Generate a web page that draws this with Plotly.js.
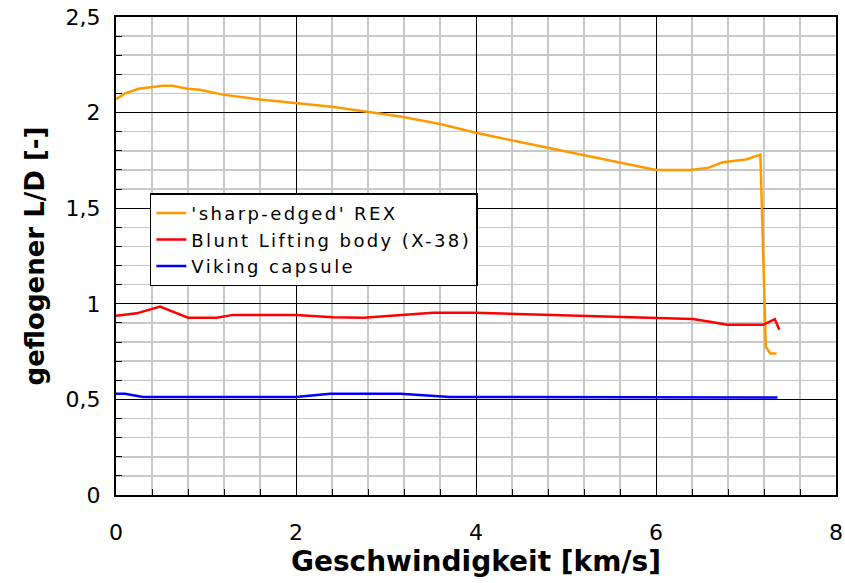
<!DOCTYPE html>
<html>
<head>
<meta charset="utf-8">
<script src="https://cdn.plot.ly/plotly-3.0.1.min.js"></script>
<style>html,body{margin:0;padding:0;background:#fff;}#chart{width:845px;height:583px;}
.legendtext{letter-spacing:2.4px;}
</style>
</head>
<body>
<div id="chart"></div>
<script>
const seriesNames = ["'sharp-edged' REX", "Blunt Lifting body (X-38)", "Viking capsule"];

const rexX = [0.0, 0.1, 0.25, 0.52, 0.63, 0.79, 0.93, 1.19, 1.6, 2.0, 2.4, 2.79, 3.16, 3.6, 4.0, 4.5, 5.0, 5.5, 6.0, 6.38, 6.57, 6.74, 7.0, 7.16, 7.22, 7.27, 7.34];
const rexY = [2.07, 2.10, 2.125, 2.14, 2.14, 2.125, 2.12, 2.094, 2.068, 2.05, 2.03, 2.005, 1.98, 1.94, 1.895, 1.845, 1.796, 1.745, 1.70, 1.70, 1.71, 1.74, 1.755, 1.78, 0.775, 0.74, 0.74];

const x38X = [0.0, 0.23, 0.49, 0.8, 1.12, 1.3, 2.0, 2.41, 2.75, 3.16, 3.52, 4.0, 4.79, 5.82, 6.41, 6.6, 6.79, 7.19, 7.32, 7.37];
const x38Y = [0.937, 0.95, 0.985, 0.927, 0.927, 0.942, 0.942, 0.93, 0.927, 0.942, 0.953, 0.953, 0.942, 0.93, 0.92, 0.906, 0.89, 0.89, 0.92, 0.864];

const vikX = [0.0, 0.1, 0.3, 1.0, 2.0, 2.38, 3.16, 3.71, 4.5, 5.5, 6.3, 7.35];
const vikY = [0.529, 0.529, 0.513, 0.513, 0.513, 0.529, 0.529, 0.513, 0.513, 0.513, 0.513, 0.51];

const colors = ['#FF9900', '#FF0000', '#0000FF'];

const traces = [
  {x: rexX, y: rexY, name: seriesNames[0], mode: 'lines', line: {color: colors[0], width: 2.5}},
  {x: x38X, y: x38Y, name: seriesNames[1], mode: 'lines', line: {color: colors[1], width: 2.5}},
  {x: vikX, y: vikY, name: seriesNames[2], mode: 'lines', line: {color: colors[2], width: 2.5}}
];

const fontFam = 'DejaVu Sans, Liberation Sans, Arial, sans-serif';

const layout = {
  width: 845, height: 583,
  margin: {l: 116, r: 9, t: 17, b: 88},
  paper_bgcolor: '#fff', plot_bgcolor: '#fff',
  separators: ', ',
  font: {family: fontFam, color: '#000', size: 22},
  showlegend: true,
  legend: {
    x: 0.047, y: 0.631, xanchor: 'left', yanchor: 'top',
    bordercolor: '#000', borderwidth: 1.5, bgcolor: '#fff',
    font: {family: fontFam, size: 18, color: '#000'},
    tracegroupgap: 0, itemwidth: 30
  },
  xaxis: {
    range: [0, 8], dtick: 2, tick0: 0,
    showgrid: true, gridcolor: '#000', gridwidth: 1,
    showline: true, linecolor: '#000', linewidth: 2, mirror: true,
    zeroline: false, ticks: '', tickfont: {size: 22}, ticklabelstandoff: 17,
    minor: {dtick: 0.4, tick0: 0, showgrid: true, gridcolor: '#c8c8c8', gridwidth: 1.5, ticks: 'inside', ticklen: 6, tickcolor: '#000'},
    title: {text: '<b>Geschwindigkeit [km/s]</b>', font: {size: 28}, standoff: 4}
  },
  yaxis: {
    range: [0, 2.5], dtick: 0.5, tick0: 0,
    showgrid: true, gridcolor: '#000', gridwidth: 1,
    showline: true, linecolor: '#000', linewidth: 2, mirror: true,
    zeroline: false, ticks: '', tickfont: {size: 22}, ticklabelstandoff: 9,
    minor: {dtick: 0.1, tick0: 0, showgrid: true, gridcolor: '#c8c8c8', gridwidth: 1.5, ticks: 'inside', ticklen: 6, tickcolor: '#000'},
    title: {text: '<b>geflogener L/D [-]</b>', font: {size: 26}, standoff: 13}
  }
};

Plotly.newPlot('chart', traces, layout, {staticPlot: true, displayModeBar: false});
</script>
</body>
</html>
